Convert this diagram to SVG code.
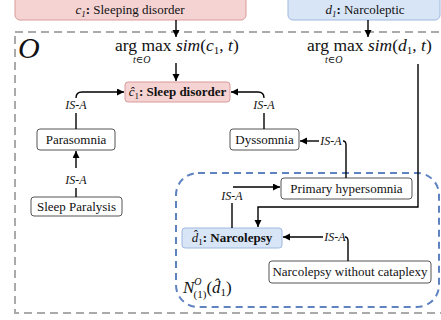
<svg xmlns="http://www.w3.org/2000/svg" width="441" height="320" viewBox="0 0 441 320" font-family="'Liberation Serif', Tinos, 'Times New Roman', 'DejaVu Serif', serif">
<style>
text{font-family:'Liberation Serif', Tinos, 'Times New Roman', 'DejaVu Serif', serif;fill:#111}
.lbl{font-size:13px;text-anchor:middle}
.b{font-weight:bold}
.isa{font-size:12px;font-style:italic;text-anchor:middle}
.box{fill:#fff;stroke:#555;stroke-width:1}
.pink{fill:#f6d3d3;stroke:#d99a9a;stroke-width:1}
.blue{fill:#d8e5f7;stroke:#9fb8de;stroke-width:1}
.c{fill:none;stroke:#000;stroke-width:1.4}
.math{font-size:17.5px}
.i{font-style:italic}
</style>
<defs>
<marker id="ah" markerUnits="userSpaceOnUse" markerWidth="8" markerHeight="8" refX="7" refY="3.5" orient="auto">
<path d="M0,0 L7,3.5 L0,7 z" fill="#000"/>
</marker>
</defs>
<rect x="15" y="32" width="440" height="281" fill="none" stroke="#aaa" stroke-width="2" stroke-dasharray="8,5"/>
<rect x="176" y="173" width="263" height="134" rx="22" fill="none" stroke="#5f82c0" stroke-width="2" stroke-dasharray="7,5"/>
<text x="18" y="58" font-size="30" font-style="italic">O</text>
<g id="c1">
<rect class="pink" x="15" y="-5" width="231" height="25" rx="5"/>
<text class="lbl" x="130" y="14"><tspan class="i">c</tspan><tspan class="i" font-size="9" dy="3">1</tspan><tspan dy="-3" font-weight="bold">:</tspan> Sleeping disorder</text>
</g>
<g id="d1">
<rect class="blue" x="288" y="-5" width="152" height="25" rx="5"/>
<text class="lbl" x="365" y="14"><tspan class="i">d</tspan><tspan class="i" font-size="9" dy="3">1</tspan><tspan dy="-3" font-weight="bold">:</tspan> Narcoleptic</text>
</g>
<g id="argmax1">
<text class="math" x="115" y="51">arg max <tspan class="i">sim</tspan>(<tspan class="i">c</tspan><tspan font-size="11" dy="3">1</tspan><tspan dy="-3">, </tspan><tspan class="i">t</tspan>)</text>
<text x="133" y="63" font-size="10" font-style="italic">t∈O</text>
</g>
<g id="argmax2">
<text class="math" x="307" y="51">arg max <tspan class="i">sim</tspan>(<tspan class="i">d</tspan><tspan font-size="11" dy="3">1</tspan><tspan dy="-3">, </tspan><tspan class="i">t</tspan>)</text>
<text x="325" y="63" font-size="10" font-style="italic">t∈O</text>
</g>
<g id="c1hat">
<rect class="pink" x="125" y="82" width="105" height="20" rx="3" stroke="#c77"/>
<text class="lbl b" x="177.5" y="96"><tspan class="i" font-weight="normal">ĉ</tspan><tspan font-size="9" dy="3" font-weight="normal">1</tspan><tspan dy="-3">: Sleep disorder</tspan></text>
</g>
<g id="parasomnia">
<rect class="box" x="37" y="129" width="78" height="21" rx="3"/>
<text class="lbl" x="76" y="144">Parasomnia</text>
</g>
<g id="sleepparalysis">
<rect class="box" x="31" y="197" width="91" height="19" rx="3"/>
<text class="lbl" x="76.5" y="211">Sleep Paralysis</text>
</g>
<g id="dyssomnia">
<rect class="box" x="230" y="129" width="69" height="21" rx="3"/>
<text class="lbl" x="264.5" y="144">Dyssomnia</text>
</g>
<g id="primary">
<rect class="box" x="281" y="178" width="131" height="21" rx="3"/>
<text class="lbl" x="346.5" y="193">Primary hypersomnia</text>
</g>
<g id="d1hat">
<rect class="blue" x="182" y="228" width="100" height="20" rx="3"/>
<text class="lbl b" x="232" y="242"><tspan class="i" font-weight="normal">d̂</tspan><tspan font-size="9" dy="3" font-weight="normal">1</tspan><tspan dy="-3">: Narcolepsy</tspan></text>
</g>
<g id="nwc">
<rect class="box" x="269" y="261" width="162" height="22" rx="3"/>
<text class="lbl" x="350" y="276">Narcolepsy without cataplexy</text>
</g>
<g id="nlabel">
<text x="183" y="293" font-size="17"><tspan class="i">N</tspan><tspan font-size="10" class="i" dy="-8">O</tspan><tspan font-size="11" dx="-8" dy="13">(1)</tspan><tspan dy="-5">(</tspan><tspan class="i">d̂</tspan><tspan font-size="11" dy="3">1</tspan><tspan dy="-3">)</tspan></text>
</g>
<g id="connectors">
<path class="c" d="M176,20 V37" marker-end="url(#ah)"/>
<path class="c" d="M176,63 V81" marker-end="url(#ah)"/>
<path class="c" d="M368,20 V37" marker-end="url(#ah)"/>
<path class="c" d="M418,64 V207 H258 V227" marker-end="url(#ah)"/>
<path class="c" d="M76,129 V113"/>
<path class="c" d="M76,98 Q76,92 82,92 H124" marker-end="url(#ah)"/>
<path class="c" d="M264,129 V113"/>
<path class="c" d="M264,98 Q264,92 258,92 H231" marker-end="url(#ah)"/>
<path class="c" d="M76,197 V188"/>
<path class="c" d="M76,168 V151" marker-end="url(#ah)"/>
<path class="c" d="M346,178 V145 Q346,141 343,141"/>
<path class="c" d="M319,141 H300" marker-end="url(#ah)"/>
<path class="c" d="M232,228 V203"/>
<path class="c" d="M233,187 H280" marker-end="url(#ah)"/>
<path class="c" d="M348,261 V241 Q348,237 345,237"/>
<path class="c" d="M323,237 H283" marker-end="url(#ah)"/>
</g>
<g id="isa-labels">
<text class="isa" x="76" y="109">IS-A</text>
<text class="isa" x="264" y="109">IS-A</text>
<text class="isa" x="76" y="184">IS-A</text>
<text class="isa" x="331" y="145">IS-A</text>
<text class="isa" x="232" y="200">IS-A</text>
<text class="isa" x="335" y="241">IS-A</text>
</g>
</svg>
